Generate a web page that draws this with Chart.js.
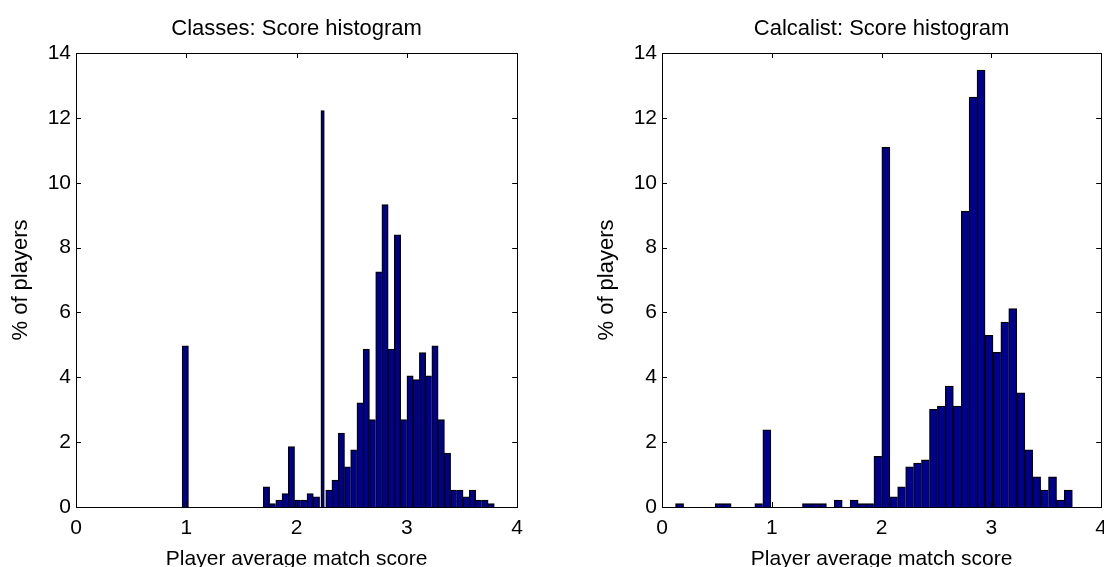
<!DOCTYPE html>
<html>
<head>
<meta charset="utf-8">
<title>Score histograms</title>
<script src="https://cdn.jsdelivr.net/npm/chart.js@4.4.1/dist/chart.umd.min.js"></script>
<style>
  html, body { margin: 0; padding: 0; background: #fff; overflow: hidden; width: 1104px; height: 567px; }
  canvas { position: absolute; top: 0; }
  #classesChart { left: 0; }
  #calcChart { left: 586px; }
</style>
</head>
<body>
<canvas id="classesChart" width="532" height="600"></canvas>
<canvas id="calcChart" width="530" height="600"></canvas>
<script>
// bin centres (player average match score), 50 bins per histogram
const classesBins = [
  0.991, 1.048, 1.104, 1.161, 1.217, 1.274, 1.331, 1.387, 1.444, 1.500,
  1.557, 1.614, 1.670, 1.727, 1.783, 1.840, 1.897, 1.953, 2.010, 2.066,
  2.123, 2.180, 2.236, 2.293, 2.349, 2.406, 2.463, 2.519, 2.576, 2.632,
  2.689, 2.746, 2.802, 2.859, 2.915, 2.972, 3.029, 3.085, 3.142, 3.198,
  3.255, 3.312, 3.368, 3.425, 3.481, 3.538, 3.595, 3.651, 3.708, 3.764
];
// % of players in each bin
const classesPct = [
  4.97, 0, 0, 0, 0, 0, 0, 0, 0, 0,
  0, 0, 0, 0.62, 0.10, 0.21, 0.41, 1.86, 0.21, 0.21,
  0.41, 0.31, 12.22, 0.52, 0.83, 2.28, 1.24, 1.76, 3.21, 4.87,
  2.69, 7.25, 9.32, 4.87, 8.39, 2.69, 4.04, 3.93, 4.76, 4.04,
  4.97, 2.69, 1.66, 0.52, 0.52, 0.31, 0.52, 0.21, 0.21, 0.10
];
// bins that show up as a thin spike in the picture
const classesThin = [22];

const calcBins = [
  0.160, 0.232, 0.304, 0.376, 0.449, 0.521, 0.593, 0.666, 0.738, 0.810,
  0.882, 0.955, 1.027, 1.099, 1.171, 1.244, 1.316, 1.388, 1.461, 1.533,
  1.605, 1.677, 1.750, 1.822, 1.894, 1.967, 2.039, 2.111, 2.183, 2.256,
  2.328, 2.400, 2.473, 2.545, 2.617, 2.689, 2.762, 2.834, 2.906, 2.978,
  3.051, 3.123, 3.195, 3.268, 3.340, 3.412, 3.484, 3.557, 3.629, 3.701
];
const calcPct = [
  0.10, 0, 0, 0, 0, 0.10, 0.10, 0, 0, 0,
  0.10, 2.38, 0, 0, 0, 0, 0.10, 0.10, 0.10, 0,
  0.21, 0, 0.21, 0.10, 0.10, 1.56, 11.09, 0.31, 0.62, 1.24,
  1.35, 1.45, 3.01, 3.11, 3.73, 3.11, 9.12, 12.64, 13.47, 5.29,
  4.77, 5.70, 6.12, 3.52, 1.76, 0.93, 0.52, 0.93, 0.21, 0.52
];
const calcThin = [];

const xTickVals = [0, 1, 2, 3, 4];
const yTickVals = [0, 2, 4, 6, 8, 10, 12, 14];

const FONT = "'Liberation Sans', Arial, Helvetica, sans-serif";
const BAR_FILL = '#00008f';
const EDGE = 1.3;

// MATLAB style ticks pointing into the box
const innerTicks = {
  id: 'innerTicks',
  afterDraw(chart) {
    const {ctx, chartArea: a, scales: {x, y}} = chart;
    const len = 5;
    ctx.save();
    ctx.strokeStyle = '#000';
    ctx.lineWidth = 1;
    ctx.beginPath();
    x.ticks.forEach((t, i) => {
      const px = Math.round(x.getPixelForTick(i)) + 0.5;
      ctx.moveTo(px, a.bottom); ctx.lineTo(px, a.bottom - len);
      ctx.moveTo(px, a.top); ctx.lineTo(px, a.top + len);
    });
    y.ticks.forEach((t, i) => {
      const py = Math.round(y.getPixelForTick(i)) + 0.5;
      ctx.moveTo(a.left, py); ctx.lineTo(a.left + len, py);
      ctx.moveTo(a.right, py); ctx.lineTo(a.right - len, py);
    });
    ctx.stroke();
    ctx.restore();
  }
};

// left edge on every bar, right edge only where the neighbour is lower
function edgeWidth(c) {
  if (c.type !== 'data') return EDGE;
  const d = c.dataset.data;
  const cur = d[c.dataIndex].y;
  const nxt = d[c.dataIndex + 1] ? d[c.dataIndex + 1].y : null;
  return { top: EDGE, left: EDGE, right: (nxt == null || nxt < cur) ? EDGE : 0, bottom: 0 };
}

function makeChart(id, title, bins, pct, thin) {
  const main = bins.map((b, i) => ({ x: b, y: (pct[i] && !thin.includes(i)) ? pct[i] : null }));
  const spikes = thin.map(i => ({ x: bins[i], y: pct[i] }));
  const txt = { color: '#000', font: { family: FONT, size: 21, weight: 'normal' } };
  const big = { color: '#000', font: { family: FONT, size: 22, weight: 'normal' } };

  return new Chart(document.getElementById(id), {
    type: 'bar',
    data: {
      datasets: [
        {
          data: main,
          backgroundColor: BAR_FILL,
          borderColor: '#000',
          borderWidth: edgeWidth,
          inflateAmount: 0.4,
          grouped: false,
          categoryPercentage: 1,
          barPercentage: 1
        },
        {
          data: spikes,
          backgroundColor: BAR_FILL,
          borderColor: '#000',
          borderWidth: EDGE,
          inflateAmount: 0.4,
          grouped: false,
          categoryPercentage: 1,
          barPercentage: 0.53
        }
      ]
    },
    options: {
      responsive: false,
      animation: false,
      events: [],
      layout: { padding: 0 },
      plugins: { legend: { display: false }, tooltip: { enabled: false } },
      scales: {
        x: {
          type: 'linear', position: 'bottom', min: 0, max: 4, offset: false,
          afterBuildTicks: s => { s.ticks = xTickVals.map(v => ({ value: v })); },
          ticks: { ...txt, padding: 9, maxRotation: 0, autoSkip: false },
          grid: { display: false, drawTicks: false },
          border: { display: true, color: '#000', width: 1, z: 1 },
          title: { display: true, text: 'Player average match score', ...txt, padding: { top: 0, bottom: 28 } },
          afterFit: s => { s.height = 93; }
        },
        x2: {
          type: 'linear', position: 'top', min: 0, max: 4,
          ticks: { display: false },
          grid: { display: false, drawTicks: false },
          border: { display: true, color: '#000', width: 1, z: 1 },
          title: { display: true, text: title, ...big, padding: { top: 16, bottom: 0 } },
          afterFit: s => { s.height = 53; }
        },
        y: {
          type: 'linear', position: 'left', min: 0, max: 14,
          afterBuildTicks: s => { s.ticks = yTickVals.map(v => ({ value: v })); },
          ticks: { ...txt, padding: 5 },
          grid: { display: false, drawTicks: false },
          border: { display: true, color: '#000', width: 1, z: 1 },
          title: { display: true, text: '% of players', ...big, padding: { top: 8, bottom: 0 } },
          afterFit: s => { s.width = 76; }
        },
        y2: {
          type: 'linear', position: 'right', min: 0, max: 14,
          ticks: { display: false },
          grid: { display: false, drawTicks: false },
          border: { display: true, color: '#000', width: 1, z: 1 },
          afterFit: s => { s.width = 10; }
        }
      }
    },
    plugins: [innerTicks]
  });
}

makeChart('classesChart', 'Classes: Score histogram', classesBins, classesPct, classesThin);
makeChart('calcChart', 'Calcalist: Score histogram', calcBins, calcPct, calcThin);
</script>
</body>
</html>
